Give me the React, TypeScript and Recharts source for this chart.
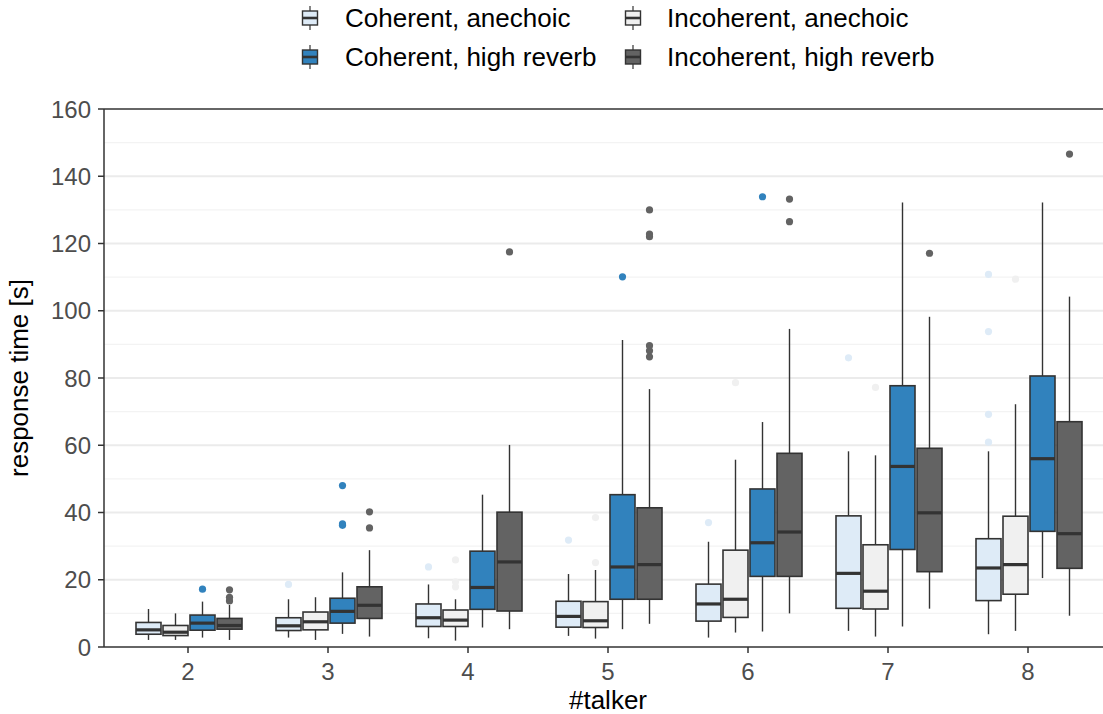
import React from 'react';
import { ComposedChart, Bar, XAxis, YAxis, CartesianGrid, ReferenceLine, Legend } from 'recharts';

const talkers = ['2', '3', '4', '5', '6', '7', '8'];

// [lower whisker, q1, median, q3, upper whisker] per talker count
const coherentAnechoic = [
  [2.1, 3.8, 5.1, 7.3, 11.3],
  [2.8, 4.9, 6.3, 8.7, 14.2],
  [2.6, 6.1, 8.7, 12.8, 18.6],
  [3.3, 5.9, 9.1, 13.6, 21.7],
  [2.8, 7.7, 12.8, 18.7, 31.3],
  [4.8, 11.5, 21.9, 39.0, 58.2],
  [3.8, 13.8, 23.5, 32.2, 58.2],
];
const coherentAnechoicOutliers = [[], [18.6], [23.8], [31.8], [37.0], [86.0], [60.9, 69.2, 93.8, 110.8]];

const incoherentAnechoic = [
  [2.1, 3.4, 4.4, 6.4, 10.0],
  [2.1, 5.1, 7.5, 10.4, 14.8],
  [1.9, 6.1, 8.0, 11.0, 14.2],
  [2.5, 5.8, 7.8, 13.5, 22.9],
  [4.3, 8.8, 14.2, 28.8, 55.7],
  [3.1, 11.3, 16.6, 30.4, 57.0],
  [4.8, 15.7, 24.5, 38.9, 72.2],
];
const incoherentAnechoicOutliers = [[], [], [17.9, 19.4, 25.9], [25.1, 38.5], [78.6], [77.2], [109.4]];

const coherentReverb = [
  [2.8, 5.0, 7.1, 9.5, 13.5],
  [3.9, 7.1, 10.6, 14.5, 22.2],
  [5.8, 11.2, 17.7, 28.5, 45.3],
  [5.3, 14.2, 23.8, 45.3, 91.3],
  [4.6, 21.0, 31.0, 47.0, 66.9],
  [6.1, 29.0, 53.7, 77.7, 132.2],
  [20.5, 34.4, 56.0, 80.6, 132.2],
];
const coherentReverbOutliers = [[17.2], [36.2, 36.6, 48.0], [], [110.1], [133.9], [], []];

const incoherentReverb = [
  [2.1, 5.3, 6.4, 8.5, 12.5],
  [3.1, 8.5, 12.4, 17.9, 28.8],
  [5.3, 10.7, 25.3, 40.1, 60.1],
  [6.9, 14.2, 24.5, 41.4, 76.7],
  [10.0, 21.0, 34.2, 57.6, 94.6],
  [11.4, 22.4, 39.9, 59.1, 98.2],
  [9.3, 23.4, 33.7, 67.0, 104.2],
];
const incoherentReverbOutliers = [
  [13.7, 14.8, 17.0],
  [35.4, 40.2],
  [117.5],
  [86.3, 88.1, 89.6, 122.0, 122.8, 130.0],
  [126.5, 133.2],
  [117.1],
  [146.6],
];

const yTicks = [0, 20, 40, 60, 80, 100, 120, 140, 160];
const majorGrid = [20, 40, 60, 80, 100, 120, 140];
const minorGrid = [10, 30, 50, 70, 90, 110, 130, 150];

const INK = '#333333';
const FONT = '"Liberation Sans", Arial, sans-serif';

const series = [
  { key: 'ca', name: 'Coherent, anechoic', fill: '#deebf7', box: coherentAnechoic, out: coherentAnechoicOutliers },
  { key: 'ia', name: 'Incoherent, anechoic', fill: '#f0f0f0', box: incoherentAnechoic, out: incoherentAnechoicOutliers },
  { key: 'ch', name: 'Coherent, high reverb', fill: '#3182bd', box: coherentReverb, out: coherentReverbOutliers },
  { key: 'ih', name: 'Incoherent, high reverb', fill: '#636363', box: incoherentReverb, out: incoherentReverbOutliers },
];

const data = talkers.map((t, i) => {
  const row: any = { talker: t };
  series.forEach((s) => {
    row[s.key] = [s.box[i][0], s.box[i][4]];
    row[s.key + 'Box'] = s.box[i];
    row[s.key + 'Out'] = s.out[i];
  });
  return row;
});

// draws a box plot inside the whisker range bar that recharts laid out
const makeBox = (key: string, fill: string) => (props: any) => {
  const { x, y, width, height, payload } = props;
  const [lo, q1, med, q3, hi] = payload[key + 'Box'];
  const top = Math.min(y, y + height);
  const bottom = Math.max(y, y + height);
  const px = (v: number) => bottom - ((v - lo) / (hi - lo)) * (bottom - top);
  const cx = x + width / 2;
  return (
    <g>
      <line x1={cx} x2={cx} y1={px(hi)} y2={px(q3)} stroke={INK} strokeWidth={1.4} />
      <line x1={cx} x2={cx} y1={px(q1)} y2={px(lo)} stroke={INK} strokeWidth={1.4} />
      <rect x={x} y={px(q3)} width={width} height={px(q1) - px(q3)} fill={fill} stroke={INK} strokeWidth={1.6} />
      <line x1={x} x2={x + width} y1={px(med)} y2={px(med)} stroke={INK} strokeWidth={3.2} />
      {payload[key + 'Out'].map((v: number, j: number) => (
        <circle key={j} cx={cx} cy={px(v)} r={3.6} fill={fill} />
      ))}
    </g>
  );
};

const LegendIcon = ({ fill }: { fill: string }) => (
  <svg width={18} height={26} style={{ display: 'block' }}>
    <line x1={9} x2={9} y1={1} y2={25} stroke={INK} strokeWidth={1.2} />
    <rect x={1.5} y={6} width={15} height={14} fill={fill} stroke={INK} strokeWidth={1.4} />
    <line x1={1.5} x2={16.5} y1={13} y2={13} stroke={INK} strokeWidth={2.6} />
  </svg>
);

const legendCols = [310, 633];
const legendText = [345, 667];
const legendRows = [18, 57];

const renderLegend = () => (
  <div style={{ position: 'relative', width: 1103, height: 80, fontFamily: FONT }}>
    {series.map((s, i) => {
      const col = i % 2;
      const row = Math.floor(i / 2);
      return (
        <React.Fragment key={s.key}>
          <div style={{ position: 'absolute', left: legendCols[col] - 9, top: legendRows[row] - 13 }}>
            <LegendIcon fill={s.fill} />
          </div>
          <div
            style={{
              position: 'absolute',
              left: legendText[col],
              top: legendRows[row] - 15,
              fontSize: 26,
              lineHeight: '30px',
              color: '#000',
              whiteSpace: 'nowrap',
            }}
          >
            {s.name}
          </div>
        </React.Fragment>
      );
    })}
  </div>
);

const YTitle = (props: any) => {
  const vb = props.viewBox;
  const cx = 28;
  const cy = vb && vb.height ? vb.y + vb.height / 2 : 378;
  return (
    <text x={cx} y={cy} transform={`rotate(-90, ${cx}, ${cy})`} textAnchor="middle" fontSize={26} fill="#000">
      response time [s]
    </text>
  );
};

export default function App() {
  return (
    <div style={{ position: 'fixed', left: 0, top: 0, width: 1103, height: 714, overflow: 'hidden', background: '#fff' }}>
      <ComposedChart
        width={1120}
        height={714}
        data={data}
        margin={{ top: 29, right: 8, bottom: 0, left: 0 }}
        barCategoryGap={18}
        barGap={2}
        style={{ fontFamily: FONT }}
      >
        <Legend
          verticalAlign="top"
          content={renderLegend}
          wrapperStyle={{ top: 0, left: 0, width: 1103, height: 80 }}
        />
        <CartesianGrid vertical={false} horizontalValues={minorGrid} stroke="#f3f3f3" strokeWidth={1.2} />
        <CartesianGrid vertical={false} horizontalValues={majorGrid} stroke="#ebebeb" strokeWidth={1.8} />
        <XAxis
          dataKey="talker"
          type="category"
          padding={{ left: 14, right: 14 }}
          height={67}
          tick={{ fill: '#4d4d4d', fontSize: 24 }}
          tickSize={6}
          tickMargin={10}
          tickLine={{ stroke: INK, strokeWidth: 1.5 }}
          axisLine={{ stroke: INK, strokeWidth: 1.5 }}
          label={{ value: '#talker', position: 'insideBottom', offset: 5, fontSize: 26, fill: '#000' }}
        />
        <YAxis
          type="number"
          domain={[0, 160]}
          ticks={yTicks}
          allowDataOverflow
          width={104}
          tick={{ fill: '#4d4d4d', fontSize: 24 }}
          tickSize={6}
          tickMargin={7}
          tickLine={{ stroke: INK, strokeWidth: 1.5 }}
          axisLine={{ stroke: INK, strokeWidth: 1.5 }}
          label={<YTitle />}
        />
        <ReferenceLine y={160} stroke={INK} strokeWidth={1.5} />
        {series.map((s) => (
          <Bar
            key={s.key}
            dataKey={s.key}
            name={s.name}
            fill={s.fill}
            shape={makeBox(s.key, s.fill)}
            isAnimationActive={false}
          />
        ))}
      </ComposedChart>
    </div>
  );
}
